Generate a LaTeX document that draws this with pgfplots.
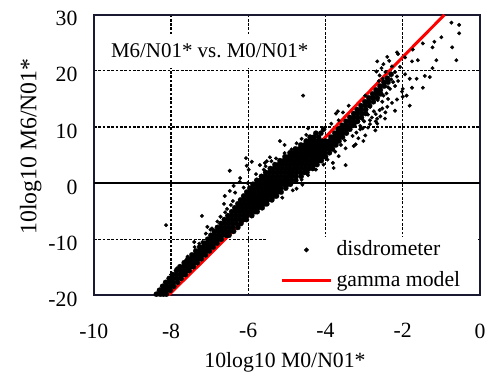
\documentclass[border=0pt]{standalone}
\usepackage{fontspec}
\setmainfont{Liberation Serif}
\usepackage{pgfplots}
\pgfplotsset{compat=1.18}
\definecolor{framecol}{RGB}{25,25,50}
\begin{document}
\begin{tikzpicture}[font=\fontsize{11}{13}\selectfont]
\begin{axis}[
  width=195.5pt, height=142pt, scale only axis,
  xmin=-10, xmax=0, ymin=-20, ymax=30,
  xtick={-10,-8,-6,-4,-2,0}, xticklabels={-10,-8,-6,-4,-2,0},
  ytick={-20,-10,0,10,20,30}, yticklabels={-20,-10,0,10,20,30},
  major tick length=0pt,
  grid=major,
  grid style={black, line width=0.6pt, dash pattern=on 1.4pt off 0.8pt},
  extra y ticks={0}, extra y tick labels={},
  extra y tick style={grid style={solid, black, line width=0.8pt}},
  axis line style={framecol, line width=1pt},
  tick label style={font=\fontsize{11}{13}\selectfont},
  xticklabel style={yshift=-10.8pt},
  yticklabel style={xshift=-4.8pt, yshift=-2pt},
  xlabel={10log10 M0/N01*},
  ylabel={10log10 M6/N01*},
  xlabel style={at={(axis description cs:0.495,-0.256)}, anchor=base, font=\fontsize{11}{13}\selectfont},
  ylabel style={at={(axis description cs:-0.149,0.53)}, anchor=base, font=\fontsize{12}{14}\selectfont},
  legend style={draw=none, fill=white, at={(axis description cs:0.996,0.004)}, anchor=south east,
    inner xsep=7pt, inner ysep=0pt, row sep=2.5pt, font=\fontsize{11}{13}\selectfont},
  legend cell align=left,
  reverse legend,
]
% gamma model
\addplot[red, line width=1.5pt,
  legend image code/.code={\draw[red, line width=1.5pt] (0pt,0pt) -- (25pt,0pt);}]
coordinates {(-8.07,-20) (-7.33,-15) (-6.60,-10) (-5.88,-5) (-5.17,0) (-4.45,5) (-3.75,10) (-3.05,15) (-2.35,20) (-1.64,25) (-0.92,30)};
\addlegendentry{gamma model}
% disdrometer, dense core
\addplot[only marks, mark=*, mark size=1.35pt, mark options={fill=black, draw=black, line width=0.1pt}, forget plot]
coordinates {
(-8.38,-19.8) (-8.28,-19.8) (-8.20,-19.8) (-8.12,-19.8)
(-8.30,-19.1) (-8.20,-19.1) (-8.11,-19.1) (-8.02,-19.1)
(-8.22,-18.4) (-8.12,-18.4) (-8.02,-18.4) (-7.93,-18.4)
(-8.14,-17.7) (-8.04,-17.7) (-7.94,-17.7) (-7.83,-17.7)
(-8.05,-17.0) (-7.95,-17.0) (-7.85,-17.0) (-7.74,-17.0)
(-7.96,-16.3) (-7.86,-16.3) (-7.76,-16.3) (-7.68,-16.3) (-7.63,-16.3)
(-7.86,-15.6) (-7.76,-15.6) (-7.66,-15.6) (-7.58,-15.6) (-7.53,-15.6)
(-7.77,-14.9) (-7.67,-14.9) (-7.57,-14.9) (-7.49,-14.9) (-7.42,-14.9)
(-7.66,-14.2) (-7.56,-14.2) (-7.46,-14.2) (-7.38,-14.2) (-7.32,-14.2)
(-7.56,-13.5) (-7.46,-13.5) (-7.36,-13.5) (-7.28,-13.5) (-7.22,-13.5)
(-7.46,-12.8) (-7.36,-12.8) (-7.26,-12.8) (-7.17,-12.8) (-7.11,-12.8)
(-7.36,-12.1) (-7.26,-12.1) (-7.16,-12.1) (-7.07,-12.1) (-7.01,-12.1)
(-7.26,-11.4) (-7.16,-11.4) (-7.06,-11.4) (-6.97,-11.4) (-6.91,-11.4)
(-7.15,-10.7) (-7.05,-10.7) (-6.95,-10.7) (-6.87,-10.7) (-6.81,-10.7)
(-7.05,-10.0) (-6.95,-10.0) (-6.85,-10.0) (-6.76,-10.0) (-6.70,-10.0)
(-6.97,-9.3) (-6.87,-9.3) (-6.77,-9.3) (-6.67,-9.3) (-6.57,-9.3) (-6.50,-9.3)
(-6.88,-8.6) (-6.78,-8.6) (-6.68,-8.6) (-6.58,-8.6) (-6.48,-8.6) (-6.38,-8.6)
(-6.80,-7.9) (-6.70,-7.9) (-6.60,-7.9) (-6.50,-7.9) (-6.40,-7.9) (-6.27,-7.9)
(-6.71,-7.2) (-6.61,-7.2) (-6.51,-7.2) (-6.41,-7.2) (-6.31,-7.2) (-6.19,-7.2)
(-6.62,-6.5) (-6.52,-6.5) (-6.42,-6.5) (-6.32,-6.5) (-6.22,-6.5) (-6.12,-6.5) (-6.05,-6.5)
(-6.53,-5.8) (-6.43,-5.8) (-6.33,-5.8) (-6.23,-5.8) (-6.13,-5.8) (-6.03,-5.8) (-5.91,-5.8)
(-6.43,-5.1) (-6.33,-5.1) (-6.23,-5.1) (-6.13,-5.1) (-6.03,-5.1) (-5.93,-5.1) (-5.83,-5.1) (-5.77,-5.1)
(-6.35,-4.4) (-6.25,-4.4) (-6.15,-4.4) (-6.05,-4.4) (-5.95,-4.4) (-5.85,-4.4) (-5.75,-4.4) (-5.64,-4.4)
(-6.27,-3.7) (-6.17,-3.7) (-6.07,-3.7) (-5.97,-3.7) (-5.87,-3.7) (-5.77,-3.7) (-5.67,-3.7) (-5.57,-3.7) (-5.52,-3.7)
(-6.20,-3.0) (-6.10,-3.0) (-6.00,-3.0) (-5.90,-3.0) (-5.80,-3.0) (-5.70,-3.0) (-5.60,-3.0) (-5.50,-3.0) (-5.39,-3.0)
(-6.12,-2.3) (-6.02,-2.3) (-5.92,-2.3) (-5.82,-2.3) (-5.72,-2.3) (-5.62,-2.3) (-5.52,-2.3) (-5.42,-2.3) (-5.32,-2.3) (-5.27,-2.3)
(-6.04,-1.6) (-5.94,-1.6) (-5.84,-1.6) (-5.74,-1.6) (-5.64,-1.6) (-5.54,-1.6) (-5.44,-1.6) (-5.34,-1.6) (-5.24,-1.6) (-5.15,-1.6)
(-5.96,-0.9) (-5.86,-0.9) (-5.76,-0.9) (-5.66,-0.9) (-5.56,-0.9) (-5.46,-0.9) (-5.36,-0.9) (-5.26,-0.9) (-5.16,-0.9) (-5.03,-0.9)
(-5.88,-0.2) (-5.78,-0.2) (-5.68,-0.2) (-5.58,-0.2) (-5.48,-0.2) (-5.38,-0.2) (-5.28,-0.2) (-5.18,-0.2) (-5.08,-0.2) (-4.98,-0.2) (-4.91,-0.2)
(-5.78,0.5) (-5.68,0.5) (-5.58,0.5) (-5.48,0.5) (-5.38,0.5) (-5.28,0.5) (-5.18,0.5) (-5.08,0.5) (-4.98,0.5) (-4.88,0.5) (-4.77,0.5)
(-5.66,1.2) (-5.56,1.2) (-5.46,1.2) (-5.36,1.2) (-5.26,1.2) (-5.16,1.2) (-5.06,1.2) (-4.96,1.2) (-4.86,1.2) (-4.76,1.2) (-4.63,1.2)
(-5.55,1.9) (-5.45,1.9) (-5.35,1.9) (-5.25,1.9) (-5.15,1.9) (-5.05,1.9) (-4.95,1.9) (-4.85,1.9) (-4.75,1.9) (-4.65,1.9) (-4.55,1.9) (-4.48,1.9)
(-5.43,2.6) (-5.33,2.6) (-5.23,2.6) (-5.13,2.6) (-5.03,2.6) (-4.93,2.6) (-4.83,2.6) (-4.73,2.6) (-4.63,2.6) (-4.53,2.6) (-4.43,2.6) (-4.33,2.6)
(-5.31,3.3) (-5.21,3.3) (-5.11,3.3) (-5.01,3.3) (-4.91,3.3) (-4.81,3.3) (-4.71,3.3) (-4.61,3.3) (-4.51,3.3) (-4.41,3.3) (-4.31,3.3) (-4.22,3.3)
(-5.18,4.0) (-5.08,4.0) (-4.98,4.0) (-4.88,4.0) (-4.78,4.0) (-4.68,4.0) (-4.58,4.0) (-4.48,4.0) (-4.38,4.0) (-4.28,4.0) (-4.18,4.0) (-4.11,4.0)
(-5.05,4.7) (-4.95,4.7) (-4.85,4.7) (-4.75,4.7) (-4.65,4.7) (-4.55,4.7) (-4.45,4.7) (-4.35,4.7) (-4.25,4.7) (-4.15,4.7) (-4.05,4.7) (-4.00,4.7)
(-4.92,5.4) (-4.82,5.4) (-4.72,5.4) (-4.62,5.4) (-4.52,5.4) (-4.42,5.4) (-4.32,5.4) (-4.22,5.4) (-4.12,5.4) (-4.02,5.4) (-3.90,5.4)
(-4.78,6.1) (-4.68,6.1) (-4.58,6.1) (-4.48,6.1) (-4.38,6.1) (-4.28,6.1) (-4.18,6.1) (-4.08,6.1) (-3.98,6.1) (-3.88,6.1) (-3.82,6.1)
(-4.64,6.8) (-4.54,6.8) (-4.44,6.8) (-4.34,6.8) (-4.24,6.8) (-4.14,6.8) (-4.04,6.8) (-3.94,6.8) (-3.84,6.8) (-3.73,6.8)
(-4.50,7.5) (-4.40,7.5) (-4.30,7.5) (-4.20,7.5) (-4.10,7.5) (-4.00,7.5) (-3.90,7.5) (-3.80,7.5) (-3.70,7.5) (-3.65,7.5)
(-4.40,8.2) (-4.30,8.2) (-4.18,8.2) (-3.86,8.2) (-3.76,8.2) (-3.66,8.2) (-3.56,8.2)
(-4.25,8.9) (-4.12,8.9) (-3.76,8.9) (-3.66,8.9) (-3.56,8.9) (-3.46,8.9)
(-4.05,9.6) (-3.67,9.6) (-3.57,9.6) (-3.47,9.6) (-3.37,9.6)
(-3.57,10.3) (-3.47,10.3) (-3.37,10.3) (-3.27,10.3)
(-3.47,11.0) (-3.37,11.0) (-3.27,11.0) (-3.17,11.0)
(-3.37,11.7) (-3.27,11.7) (-3.17,11.7) (-3.07,11.7)
(-3.27,12.4) (-3.17,12.4) (-3.06,12.4) (-2.96,12.4)
(-3.18,13.1) (-3.07,13.1) (-2.96,13.1)
(-3.08,13.8) (-2.97,13.8) (-2.86,13.8)
(-2.98,14.5) (-2.88,14.5) (-2.76,14.5)
(-2.88,15.2) (-2.77,15.2) (-2.66,15.2)
(-2.78,15.9) (-2.68,15.9) (-2.57,15.9)
(-2.69,16.6) (-2.58,16.6)
(-2.59,17.3) (-2.48,17.3)
(-2.49,18.0) (-2.38,18.0)
(-2.40,18.7) (-2.30,19.4)
};
% disdrometer, scattered points
\addplot[only marks, mark=*, mark size=0.9pt, mark options={fill=black, draw=black, line width=0.2pt},
  legend image code/.code={\fill[black] (12.5pt,0pt) circle (1pt);}]
coordinates {
(-8.13,-7.5) (-8.00,-16.3) (-7.57,-13.1) (-7.39,-11.4) (-7.40,-10.5) (-7.27,-10.8) (-7.19,-10.5)
(-7.20,-5.85) (-7.06,-7.8) (-6.94,-8.1) (-6.80,-6.85) (-6.60,-5.2)
(-6.63,-3.7) (-6.61,-2.3) (-6.48,-1.4) (-6.38,-0.5) (-6.34,-1.7) (-6.22,0.2) (-6.48,2.2) (-6.21,0.9)
(-6.06,4.45) (-5.91,3.8) (-5.99,2.4) (-6.04,3.1) (-5.70,3.2) (-5.60,2.4)
(-5.52,3.9) (-5.44,4.6) (-5.40,3.9) (-5.57,3.6)
(-5.18,7.5) (-5.06,6.8) (-5.06,5.35) (-4.58,15.6) (-4.45,9.75) (-4.50,8.6)
(-3.73,12.4) (-3.55,12.6) (-3.68,12.8) (-3.66,11.2) (-3.40,13.8) (-3.85,10.6)
(-4.60,-0.3) (-4.75,-1.0)
(-7.10,-9.0) (-6.98,-8.3) (-6.72,-6.0) (-6.55,-4.6) (-6.45,-3.9) (-6.40,-3.2) (-6.12,-0.8) (-6.02,0.0)
(-5.80,1.6) (-5.55,3.0) (-5.28,4.4) (-4.88,6.0) (-4.75,7.1) (-4.62,7.9)
(-5.12,-2.6) (-4.85,-1.3) (-4.62,0.6) (-4.45,1.4) (-4.25,2.4) (-4.05,3.3) (-3.95,4.2) (-3.75,5.6) (-3.60,6.8) (-3.50,7.6)
(-7.62,-13.8) (-7.85,-15.2) (-8.05,-17.5)
(-3.79,2.7) (-3.81,3.6) (-3.48,6.2) (-3.66,4.8) (-3.48,3.2) (-3.27,6.6) (-3.02,7.5) (-3.04,9.75) (-2.97,8.5) (-3.22,6.9)
(-2.71,9.4) (-2.66,10.6) (-2.46,11.5) (-2.66,11.5) (-2.53,13.3) (-2.38,15.0) (-2.53,14.5) (-2.40,13.6) (-2.84,13.6) (-2.97,15.6)
(-2.76,15.0) (-3.15,12.9) (-2.20,12.9) (-2.02,16.3) (-2.00,15.4) (-1.82,13.8) (-1.90,15.6) (-2.90,12.2) (-2.75,12.8) (-2.60,13.0)
(-3.00,11.0) (-2.85,10.5) (-3.10,10.2) (-2.25,18.0) (-2.33,16.8) (-2.20,17.3) (-2.38,17.1) (-2.12,18.2)
(-3.20,9.0) (-3.10,9.6) (-2.90,9.9) (-3.30,8.4) (-3.15,8.0) (-2.85,11.2) (-2.70,11.0) (-2.58,11.9) (-2.95,14.2) (-2.65,14.8)
(-2.50,15.6) (-2.60,16.2) (-2.42,16.0) (-2.28,14.3) (-2.15,14.9) (-3.20,10.8) (-3.05,11.4) (-2.80,11.7) (-2.70,12.3) (-2.45,12.6)
(-2.62,18.2) (-2.68,19.9) (-2.52,18.6) (-2.30,18.5)
(-2.15,23.3) (-0.74,28.6) (-0.54,28.2) (-0.54,26.7) (-1.00,26.0) (-1.18,25.2) (-1.48,24.9) (-0.72,24.2) (-1.23,24.2) (-1.74,23.8)
(-1.94,22.4) (-1.76,21.7) (-1.61,21.9) (-1.13,21.9) (-0.61,21.9) (-1.23,20.5) (-2.66,21.7) (-2.12,23.0) (-1.94,19.4) (-1.43,19.1)
(-1.30,18.9) (-1.64,18.6) (-1.82,18.6) (-1.76,17.0) (-1.48,17.0) (-2.00,16.8) (-2.07,20.7)
(-2.55,20.5) (-2.45,19.8) (-2.60,19.2) (-2.50,21.2) (-2.35,21.8) (-2.28,20.8) (-2.20,19.8) (-2.15,19.0) (-2.40,22.5)
};
\addlegendentry{disdrometer}
\node[fill=white, inner xsep=3pt, inner ysep=5pt, anchor=base, font=\fontsize{10.6}{13}\selectfont]
  at (axis cs:-7.0,22.38) {M6/N01* vs.\ M0/N01*};
\coordinate (bbsw) at (axis description cs:-0.243,-0.2923);
\coordinate (bbne) at (axis description cs:1.0153,1.0528);
\end{axis}
\path (bbsw) rectangle (bbne);
\end{tikzpicture}
\end{document}
